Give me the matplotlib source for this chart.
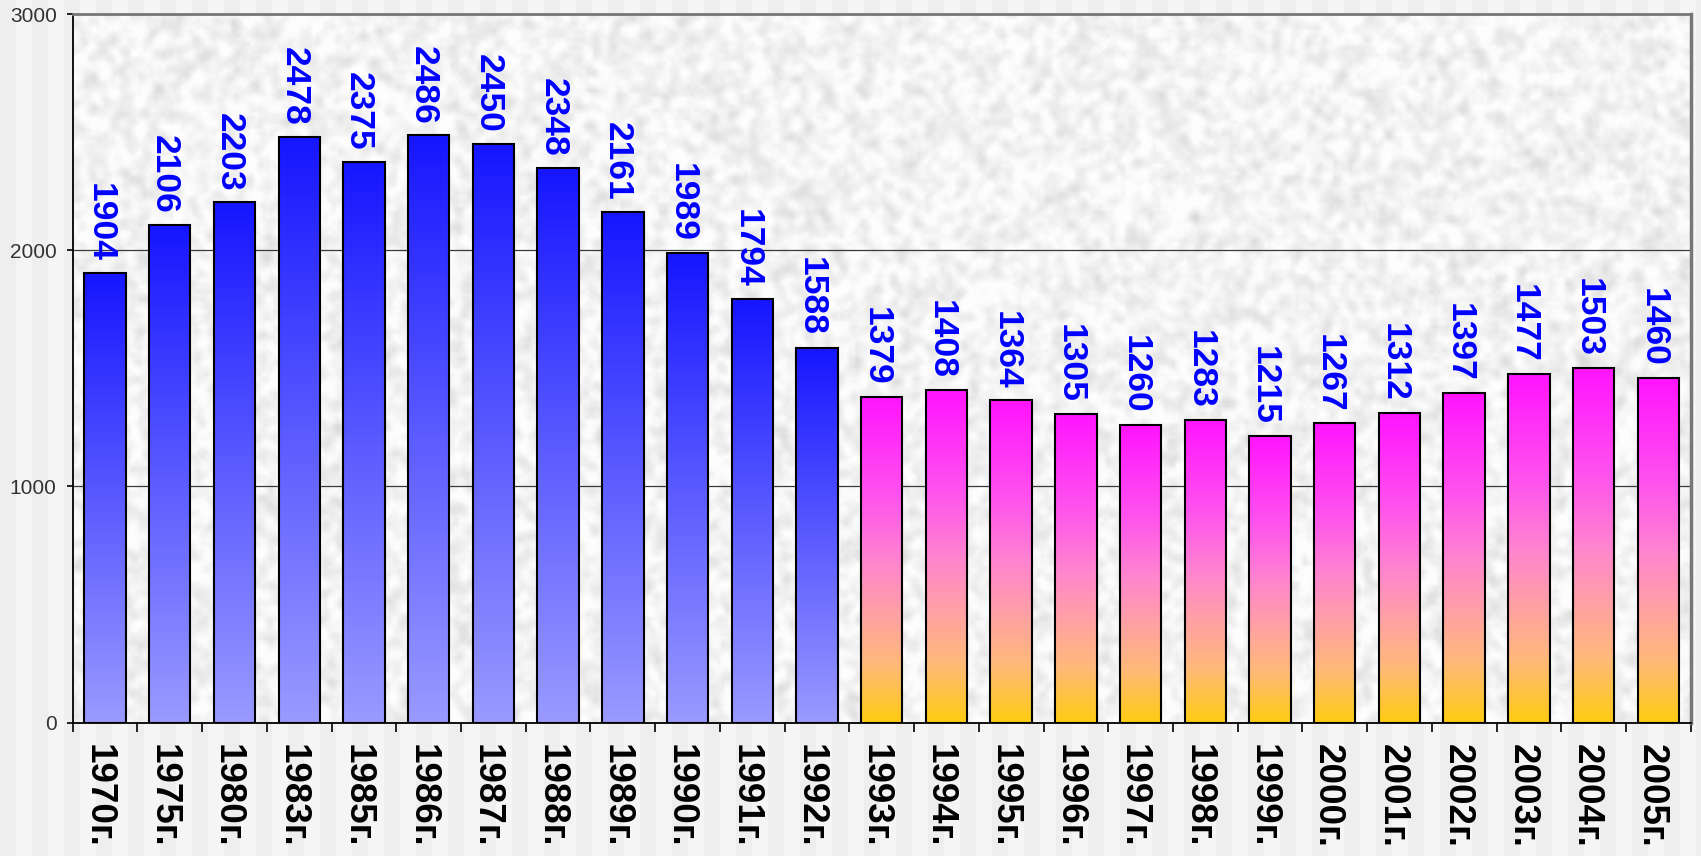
import numpy as np
import matplotlib
matplotlib.use("Agg")
import matplotlib.pyplot as plt
from matplotlib.colors import LinearSegmentedColormap
from matplotlib.transforms import ScaledTranslation

# Data
years = ["1970г.", "1975г.", "1980г.", "1983г.", "1985г.", "1986г.", "1987г.",
         "1988г.", "1989г.", "1990г.", "1991г.", "1992г.", "1993г.", "1994г.",
         "1995г.", "1996г.", "1997г.", "1998г.", "1999г.", "2000г.", "2001г.",
         "2002г.", "2003г.", "2004г.", "2005г."]
values = [1904, 2106, 2203, 2478, 2375, 2486, 2450, 2348, 2161, 1989, 1794, 1588,
          1379, 1408, 1364, 1305, 1260, 1283, 1215, 1267, 1312, 1397, 1477, 1503, 1460]
n_first_period = 12          # 1970–1992 drawn in blue, 1993–2005 in magenta/gold
y_ticks = [0, 1000, 2000, 3000]

W, H = 1701, 856
fig = plt.figure(figsize=(W / 100, H / 100), dpi=100)

# Striped grey backdrop behind the whole figure
cols = np.arange(W)
stripe = np.where((cols // 16) % 2 == 0, 0.937, 0.962)
backdrop = np.dstack([np.repeat(stripe[None, :], H, axis=0)] * 3)
fig.figimage(backdrop, 0, 0, zorder=-5)

ax = fig.add_axes([72.7 / W, (H - 722.7) / H, (1690.7 - 72.7) / W, (722.7 - 14) / H])
ax.set_facecolor("white")

x = np.arange(len(values))
xlim = (-0.5, len(values) - 0.5)
ylim = (0, 3000)

# Paper-like mottled texture for the plotting area
rng = np.random.default_rng(11)
grain = rng.random((180, 420))
padded = np.pad(grain, 1, mode="wrap")
blur = sum(padded[1 + dy:1 + dy + grain.shape[0], 1 + dx:1 + dx + grain.shape[1]]
           for dy in (-1, 0, 1) for dx in (-1, 0, 1)) / 9.0
mottle = (blur - blur.mean()) / blur.std()
speck = (grain - 0.5) / 0.29
shade = np.clip(0.952 - 0.026 * mottle - 0.008 * speck, 0.80, 0.99)
ax.imshow(shade, cmap="gray", vmin=0, vmax=1, extent=[*xlim, *ylim],
          aspect="auto", interpolation="bilinear", zorder=0)

# Vertical gradients (row 0 = top of a bar)
blue_cmap = LinearSegmentedColormap.from_list(
    "blue_fill", ["#1616ff", "#5a5aff", "#9a9aff"])
warm_cmap = LinearSegmentedColormap.from_list(
    "warm_fill", [(0.0, "#ff14ff"), (0.3, "#ff52ee"), (0.5, "#ff84d0"),
                  (0.66, "#ffa0a6"), (0.82, "#ffb97a"), (1.0, "#ffcc12")])

bars = ax.bar(x, values, width=0.64, facecolor="none", edgecolor="black",
              linewidth=1.5, zorder=3)
ramp = np.linspace(0, 1, 256)
for i, rect in enumerate(bars):
    cmap = blue_cmap if i < n_first_period else warm_cmap
    grad = cmap(ramp)[:, None, :3]
    x0, w, h = rect.get_x(), rect.get_width(), rect.get_height()
    ax.imshow(grad, extent=[x0, x0 + w, 0, h], aspect="auto",
              interpolation="bilinear", origin="upper", zorder=2)

# Value labels above the bars
for rect, v in zip(bars, values):
    ax.annotate(f"{v}", (rect.get_x() + rect.get_width() / 2, v),
                xytext=(-3.8, 8), textcoords="offset points", rotation=-90,
                ha="center", va="bottom", color="#0000ff", fontsize=25.5,
                fontweight="bold", family="Liberation Sans", zorder=4)

ax.set_xlim(*xlim)
ax.set_ylim(*ylim)

# Y axis
ax.set_yticks(y_ticks)
ax.set_yticklabels([str(t) for t in y_ticks], family="Liberation Sans")
ax.tick_params(axis="y", length=4.5, width=1.2, pad=7, labelsize=15,
               labelcolor="#333333", color="black")
ax.yaxis.grid(True, color="#3a3a3a", linewidth=0.9)
ax.set_axisbelow(True)

# X axis: ticks at category boundaries, labels at centres
ax.set_xticks(np.arange(len(values) + 1) - 0.5)
ax.set_xticklabels([])
ax.set_xticks(x, minor=True)
ax.set_xticklabels(years, minor=True, rotation=270, fontsize=26.5,
                   fontweight="bold", family="Liberation Sans", color="black")
ax.tick_params(axis="x", which="major", length=6.5, width=1.2, color="black")
ax.tick_params(axis="x", which="minor", length=0, pad=15)
shift = ScaledTranslation(-7 / 100, 0, fig.dpi_scale_trans)
for lbl in ax.get_xticklabels(minor=True):
    lbl.set_transform(lbl.get_transform() + shift)

for side in ("left", "bottom"):
    ax.spines[side].set_color("black")
    ax.spines[side].set_linewidth(1.3)
ax.spines["top"].set_color("#777777")
ax.spines["top"].set_linewidth(2)
ax.spines["right"].set_color("#777777")
ax.spines["right"].set_linewidth(2.5)

fig.savefig("out.png", dpi=100)
